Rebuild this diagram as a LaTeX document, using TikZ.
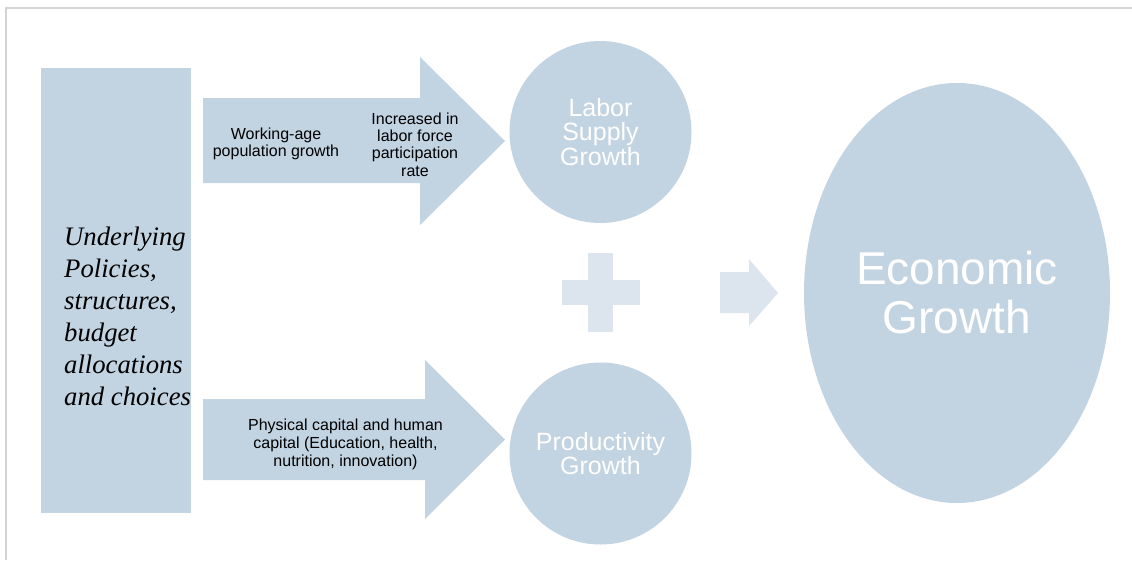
\documentclass[tikz,border=0pt]{standalone}
\usepackage{fontspec}
\setmainfont{Liberation Sans}
\newfontfamily\serifit{Liberation Serif}
\usetikzlibrary{shapes.geometric}
\definecolor{mainblue}{RGB}{194,211,226}
\definecolor{paleblue}{RGB}{220,229,238}
\definecolor{framegray}{RGB}{212,212,212}
\begin{document}
\begin{tikzpicture}[x=1pt,y=-1pt,
  blockfill/.style={fill=mainblue,draw=none},
  palefill/.style={fill=paleblue,draw=none},
  smalltext/.style={font=\fontsize{16}{17.3}\selectfont,align=center,text=black,inner sep=0pt},
  circtext/.style={circle,blockfill,minimum size=182pt,inner sep=0pt,text=white,align=center,
    font=\fontsize{25}{24.5}\selectfont},
  policytext/.style={font=\serifit\itshape\fontsize{26.7}{32}\selectfont,align=left,text=black,inner sep=0pt}]
\useasboundingbox (0,0) rectangle (1132,560);
\fill[white] (0,0) rectangle (1132,560);
\draw[framegray,line width=1.2pt] (6,560) -- (6,8) -- (1132,8);

% left block
\node[blockfill,rectangle,minimum width=150pt,minimum height=445pt,inner sep=0pt,outer sep=0pt,anchor=north west] (policy) at (41,68) {};
\node[policytext,anchor=west] (policytxt) at (64,316) {Underlying\\Policies,\\structures,\\budget\\allocations\\and choices};

% top arrow
\fill[blockfill] (203,98) -- (420,98) -- (420,57) -- (505,141) -- (420,225) -- (420,183) -- (203,183) -- cycle;
\node[smalltext] (wap) at (276,144) {Working-age\\population growth};
\node[smalltext] (lfp) at (415,144.5) {Increased in\\labor force\\participation\\rate};

% bottom arrow
\fill[blockfill] (203,399) -- (425,399) -- (425,360) -- (505,439.5) -- (425,519) -- (425,480) -- (203,480) -- cycle;
\node[smalltext,font=\fontsize{16}{18}\selectfont] (cap) at (345.5,444.5) {Physical capital and human\\capital (Education, health,\\nutrition, innovation)};

% circles
\node[circtext] (labor) at (600.5,132) {Labor\\Supply\\Growth};
\node[circtext] (prod) at (600.5,453.5) {Productivity\\Growth};

% plus and small arrow
\fill[palefill] (588,253) rectangle (613,332);
\fill[palefill] (562,280) rectangle (640,305);
\fill[palefill] (720,272) -- (749,272) -- (749,259) -- (778,293) -- (749,326) -- (749,313) -- (720,313) -- cycle;

% economic growth
\node[ellipse,blockfill,minimum width=306pt,minimum height=420pt,inner sep=0pt,text=white,align=center,
  font=\fontsize{46}{49}\selectfont] (econ) at (957,293) {Economic\\Growth};
\end{tikzpicture}
\end{document}
